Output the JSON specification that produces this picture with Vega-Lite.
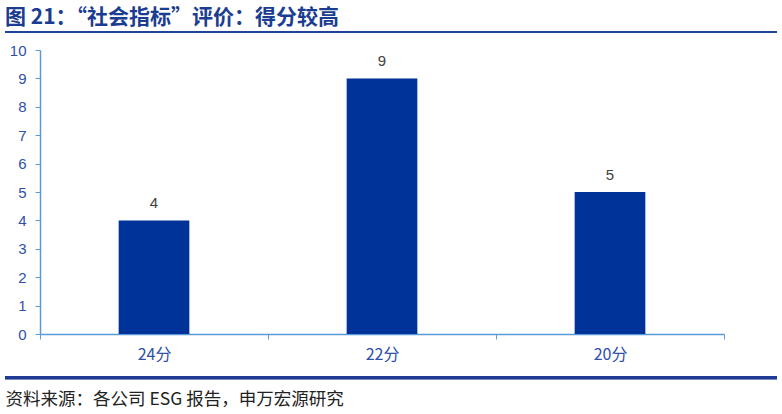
{
  "$schema": "https://vega.github.io/schema/vega-lite/v6.json",
  "autosize": "none",
  "width": 772,
  "height": 284,
  "padding": {"left": 5, "top": 50, "right": 5, "bottom": 80},
  "background": "white",
  "config": {
    "view": {"stroke": null},
    "axisY": {
      "tickCount": 11,
      "labelOverlap": false,
      "grid": false,
      "labelFont": "Liberation Sans",
      "labelFontSize": 15,
      "labelColor": "#2F4FA8",
      "labelPadding": 9,
      "tickSize": 5,
      "tickColor": "#5B9BD5",
      "domainColor": "#5B9BD5",
      "domainWidth": 1.5
    }
  },
  "title": {
    "text": "图 21：“社会指标”评价：得分较高",
    "anchor": "start",
    "frame": "group",
    "baseline": "bottom",
    "offset": 4,
    "dy": 22,
    "font": "Noto Sans CJK SC",
    "fontSize": 21,
    "fontWeight": "bold",
    "color": "#1B3D91"
  },
  "data": {
    "values": [
      {"score": "24分", "count": 4},
      {"score": "22分", "count": 9},
      {"score": "20分", "count": 5}
    ]
  },
  "layer": [
    {
      "mark": {"type": "bar", "color": "#003399", "width": {"band": 0.31}},
      "encoding": {
        "x": {
          "field": "score",
          "type": "nominal",
          "sort": null,
          "scale": {"range": [35, 719], "paddingInner": 0, "paddingOuter": 0},
          "axis": {
            "title": "资料来源：各公司 ESG 报告，申万宏源研究",
            "titleX": 0,
            "titleY": 65,
            "titleAlign": "left",
            "titleBaseline": "middle",
            "titleFont": "Noto Sans CJK SC",
            "titleFontSize": 17.5,
            "titleFontWeight": "normal",
            "titleColor": "#222222",
            "labelAngle": 0,
            "labelFont": "Noto Sans CJK SC",
            "labelFontSize": 16,
            "labelColor": "#2F4FA8",
            "labelPadding": 7,
            "tickBand": "extent",
            "tickSize": 5,
            "tickColor": "#5B9BD5",
            "domainColor": "#5B9BD5",
            "domainWidth": 1.5
          }
        },
        "y": {
          "field": "count",
          "type": "quantitative",
          "scale": {"domain": [0, 10], "nice": false},
          "axis": {
            "title": null,
            "offset": -35,
            "tickCount": 11,
            "values": [0,1,2,3,4,5,6,7,8,9,10]
          }
        }
      }
    },
    {
      "mark": {"type": "text", "baseline": "middle", "dy": -17, "font": "Liberation Sans", "fontSize": 15, "color": "#404040"},
      "encoding": {
        "x": {"field": "score", "type": "nominal", "sort": null},
        "y": {"field": "count", "type": "quantitative"},
        "text": {"field": "count", "type": "quantitative"}
      }
    },
    {
      "mark": {"type": "rule", "color": "#1F4399", "strokeWidth": 2},
      "encoding": {"y": {"datum": 10.63}}
    },
    {
      "mark": {"type": "rule", "color": "#1F3A93", "strokeWidth": 3},
      "encoding": {"y": {"datum": -1.54}}
    }
  ]
}
